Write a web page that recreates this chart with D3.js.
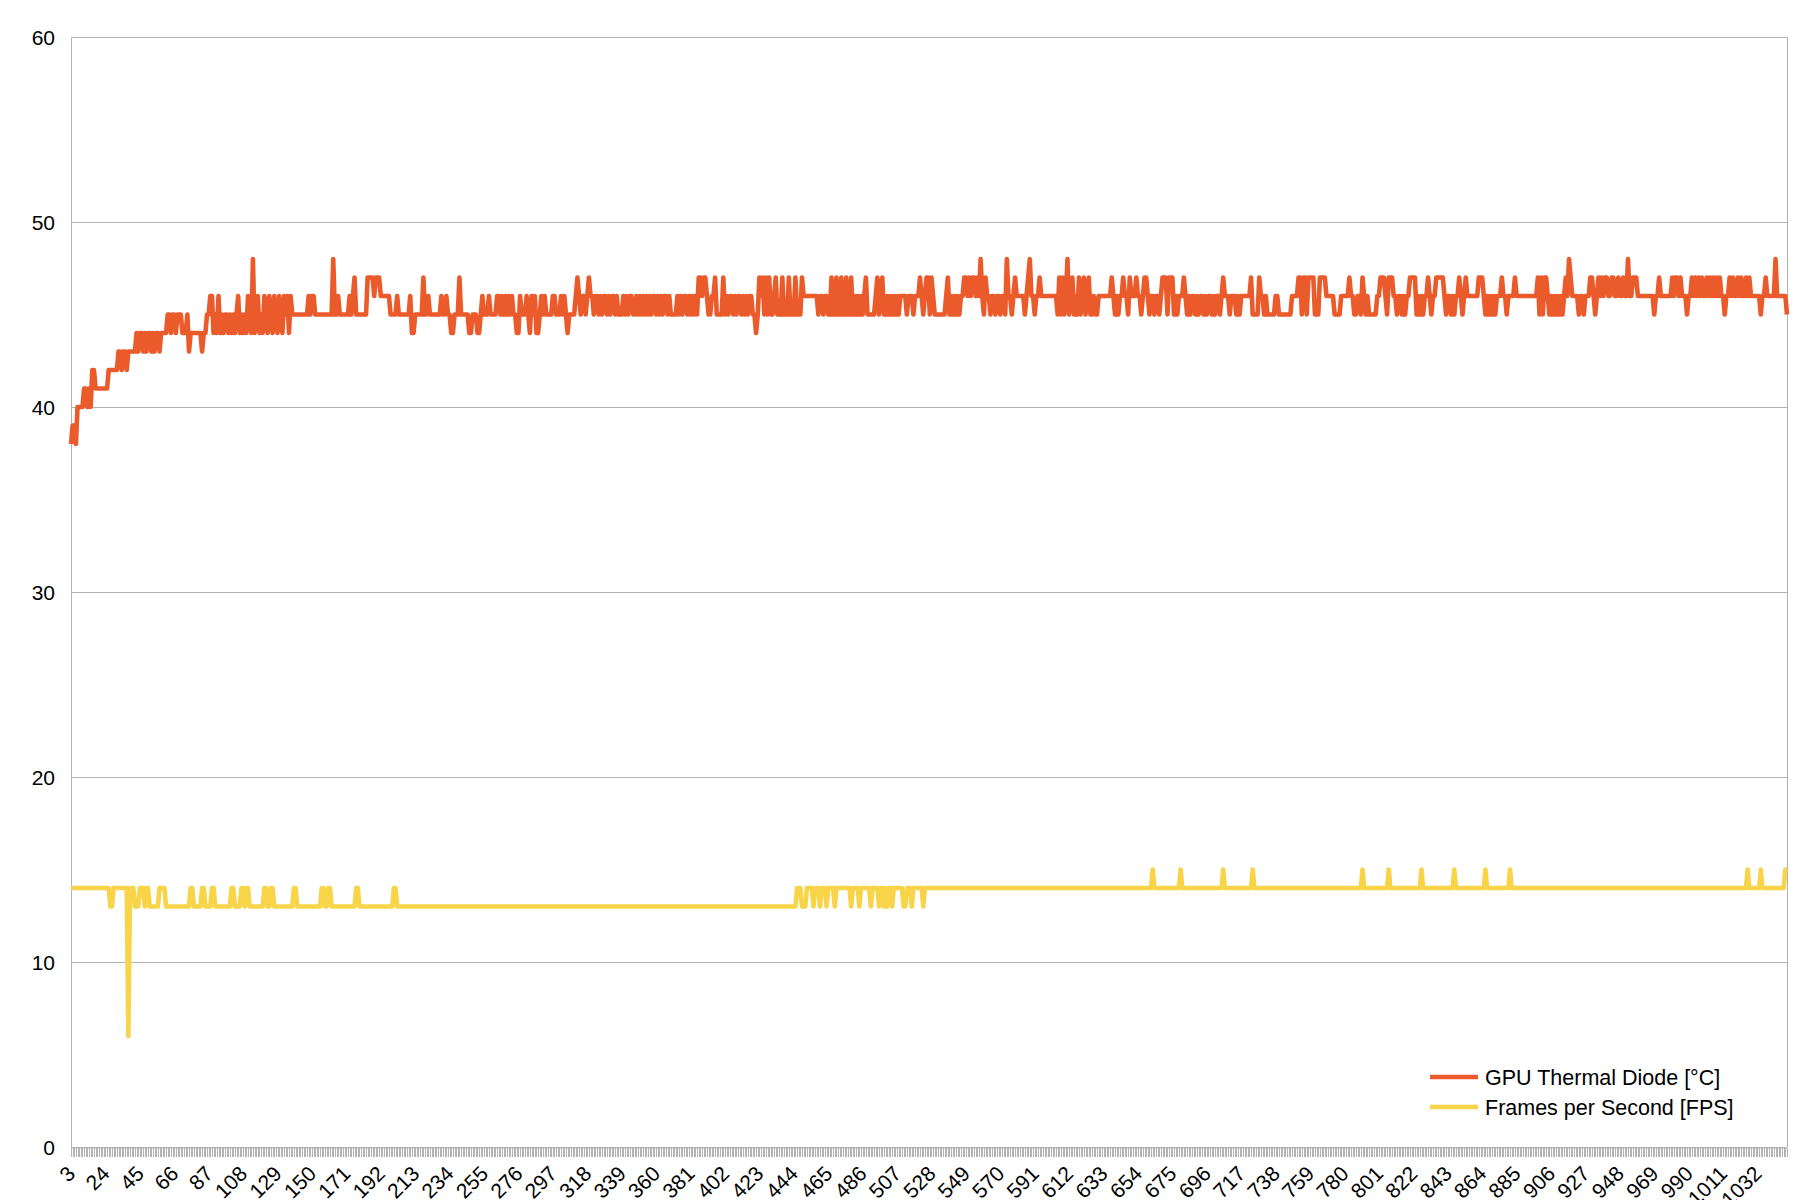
<!DOCTYPE html>
<html><head><meta charset="utf-8">
<script src="https://cdn.jsdelivr.net/npm/d3@7/dist/d3.min.js"></script>
<style>body{margin:0;background:#fff}svg{display:block}</style>
</head><body>
<svg id="chart" width="1799" height="1200"></svg>
<script>
// ---------------- data ----------------
const firstCategory = 3;
const lastCategory = 1050;
const xTickLabels = [3,24,45,66,87,108,129,150,171,192,213,234,255,276,297,318,339,360,381,402,423,444,465,486,507,528,549,570,591,612,633,654,675,696,717,738,759,780,801,822,843,864,885,906,927,948,969,990,1011,1032];
const yTicks = [0,10,20,30,40,50,60];
const seriesNames = ["GPU Thermal Diode [°C]", "Frames per Second [FPS]"];

// GPU Thermal Diode [°C], categories 3..1050, read in sections
const tempSec1 = [38,39,39,38,40,40,40,40,41,41, 40,41,40,42,42,41,41,41,41,41, 41,41,41,42,42,42,42,42,42,43, 43,42,43,43,42,43,43,43,43,43,
  44,43,44,44,43,44,43,44,44,43, 44,43,44,44,43,44,44,44,44,45, 45,44,45,45,44,45,45,45,44,44, 44,45,43,44,44,44,44,44,44,44,
  43,44,44,45,45,46,46,44,45,44, 46,44,45,44,45,45,44,45,44,45, 44,45,46,44,45,44,45,44,46,45, 44,48,44,45,46,44,45,44,46,45,
  44,46,45,44,46,45,44,46];
const tempSec2 = [45,44,46,45,46,44,46,45,45,45, 45,45,45,45,45,45,45,46,45,46, 46,45,45,45,45,45,45,45,45,45, 45,45,48,45,45,46,45,45,45,45,
  45,45,46,45,46,47,45,45,45,45, 45,45,45,47,47,47,47,46,47,47, 47,46,46,46,46,46,46,45,45,45, 45,46,45,45,45,45,45,45,45,46,
  44,44,45,45,45,45,45,47,45,45, 46,45,45,45,45,45,45,45,46,45, 45,46,45,45,44,44,45,45,45,47, 45,45,45,45,45,44,44,45,45,45,
  44,44,45,46,45,45,45,46,45,45, 45,45,46,46];
const tempSec3 = [45,46,45,46,45,46,45,46,45,45, 44,44,46,45,45,45,46,45,44,46, 45,46,44,44,45,46,45,46,45,45, 45,45,46,46,45,45,45,46,45,46,
  45,44,45,45,45,45,46,47,46,45, 46,46,45,46,47,46,46,45,46,46, 45,46,45,46,46,45,46,45,46,46, 45,46,45,45,45,46,45,46,45,46,
  46,45,45,46,45,46,45,46,45,46, 45,46,45,46,46,45,46,45,46,45, 46,46,45,46,45,45,45,45,46,45, 46,45,46,46,45,46,45,46,45,46,
  45,47,47,46,47,47,46];
const tempSec4 = [45,45,46,46,47,45,45,45,45,47, 45,46,45,46,46,45,46,45,46,46, 45,46,45,46,45,46,46,45,45,44, 45,47,46,47,45,47,45,47,45,45,
  46,47,45,45,45,47,45,45,45,47, 45,45,45,47,45,45,45,47,46,46, 46,46,46,46,46,46,46,45,46,46, 45,46,46,45,45,47,45,45,47,45,
  45,47,45,45,47,45,45,47,45,46, 45,46,45,46,45,46,47,45,45,45, 45,45,46,47,45,46,47,45,45,46, 45,46,45,46,45,46,45,46,46,46,
  46,45,46,46,46,45,46,46,46,47, 46,45];
const tempSec5 = [46,47,47,45,47,46,45,45,45,45, 45,45,45,46,47,45,46,45,46,45, 46,45,46,46,47,47,46,47,46,47, 47,46,47,46,48,46,45,47,46,46,
  45,46,46,45,46,46,45,46,46,45, 48,46,46,45,46,47,46,46,46,46, 46,45,46,47,48,46,46,45,46,46, 47,46,46,46,46,46,46,46,46,46,
  46,45,47,45,47,45,46,48,45,46, 47,45,46,45,47,45,46,47,45,46, 47,45,45,46,45,45,46,46,46,46, 46,46,46,46,47,46,45,46,45,46,
  46,47,46,46,45,47,46,46,46,47, 46,46];
const tempSec6 = [45,46,47,47,46,45,46,46,45,46, 46,45,46,47,47,47,45,47,47,47, 45,46,45,46,46,46,47,46,45,46, 45,46,46,45,46,45,46,46,45,46,
  45,46,46,45,46,45,46,46,45,46, 47,46,46,46,45,46,46,46,45,46, 45,46,46,46,46,46,46,47,45,45, 45,45,47,46,46,45,46,45,45,45,
  45,45,46,46,45,45,45,45,45,45, 45,45,46,46,46,46,47,47,45,47, 47,45,47,47,47,47,45,45,45,47, 47,47,47,46,46,46,46,46,45,45,
  45,45,46,46,46,46,46,47,46,46, 45];
const tempSec7 = [45,46,46,45,47,46,45,46,45,45, 45,45,45,46,46,47,47,47,46,45, 47,47,47,46,46,45,46,46,45,46, 45,46,46,47,47,47,47,45,46,45,
  46,45,46,46,47,46,45,46,46,47, 47,47,47,47,46,45,46,46,45,46, 45,46,46,47,46,45,46,47,46,46, 46,46,46,46,46,47,47,47,46,45,
  46,45,46,45,46,45,46,46,46,47, 46,46,45,46,46,46,46,47,46,46, 46,46,46,46,46,46,46,46,46,46, 46,47,45,47,45,47,47,46,45,46,
  45,46,45,46,45,46,45,46,47,46, 48];
const tempSec8 = [47,46,46,46,46,45,46,46,45,46, 46,46,47,47,46,45,46,47,46,47, 46,47,47,46,46,47,47,46,46,47, 46,46,47,46,46,48,46,46,47,47,
  47,46,46,46,46,46,46,46,46,46, 46,45,46,46,47,46,46,46,46,46, 46,46,47,46,47,47,46,47,46,46, 46,45,46,46,47,46,47,46,47,46,
  47,46,46,47,46,47,46,47,46,47, 46,47,46,46,45,46,46,47,46,47, 46,46,47,46,47,46,46,47,46,47, 46,46,46,46,46,46,45,46,46,47,
  46,46,46,46,46,48,46,46,46,46, 46,46,45];

// Frames per Second [FPS], run lengths [value, count] from category 3
const fpsRuns = [[14,24],[13,2],[14,9],[6,1],[14,3],[13,3],[14,3],[13,1],[14,2],[13,6],[14,4],[13,15],
  [14,2],[13,5],[14,2],[13,4],[14,2],[13,10],[14,2],[13,4],[14,2],[13,1],[14,2],[13,9],
  [14,2],[13,2],[14,2],[13,12],[14,2],[13,15],[14,2],[13,2],[14,2],[13,15],[14,2],[13,21],[14,2],
  [13,244],
  [14,3],[13,3],[14,4],[13,1],[14,3],[13,1],[14,3],[13,1],[14,4],[13,1],[14,9],[13,1],[14,4],[13,1],[14,6],[13,1],
  [14,4],[13,1],[14,2],[13,1],[14,1],[13,1],[14,2],[13,1],[14,6],[13,2],[14,3],[13,1],[14,6],[13,1],
  [14,139],[15,1],[14,16],[15,1],[14,25],[15,1],[14,17],[15,1],[14,66],[15,1],[14,15],[15,1],[14,19],[15,1],
  [14,19],[15,1],[14,18],[15,1],[14,14],[15,1],[14,144],[15,1],[14,7],[15,1],[14,14],[15,2]];

// ---------------- build ----------------
const categories = d3.range(firstCategory, lastCategory + 1);
const tempValues = [].concat(tempSec1, tempSec2, tempSec3, tempSec4, tempSec5, tempSec6, tempSec7, tempSec8);
const fpsValues = [];
fpsRuns.forEach(([v, n]) => { for (let i = 0; i < n; i++) fpsValues.push(v); });

const tempData = categories.map((c, i) => ({c, v: tempValues[Math.min(i, tempValues.length - 1)]}));
const fpsData = categories.map((c, i) => ({c, v: fpsValues[Math.min(i, fpsValues.length - 1)]}));

const colors = ["#EA5A2A", "#F8D448"];
const gridColor = "#b3b3b3";
const font = "'Liberation Sans', Arial, sans-serif";

const L = 71, R = 1787, T = 37, B = 1147;
const svg = d3.select("#chart");
const x = d3.scalePoint().domain(categories).range([L, R]);
const y = d3.scaleLinear().domain([0, 60]).range([B, T]);

// gridlines
svg.append("g").selectAll("line").data(yTicks).join("line")
  .attr("x1", L).attr("x2", R).attr("y1", d => y(d) + 0.5).attr("y2", d => y(d) + 0.5)
  .attr("stroke", gridColor).attr("stroke-width", 1);

// plot frame
svg.append("line").attr("x1", L + 0.5).attr("x2", L + 0.5).attr("y1", T).attr("y2", B)
  .attr("stroke", gridColor);
svg.append("line").attr("x1", R + 0.5).attr("x2", R + 0.5).attr("y1", T).attr("y2", B)
  .attr("stroke", gridColor);

// x tick marks (one per category)
const xTickAxis = d3.axisBottom(x).tickValues(categories).tickSize(9).tickFormat("");
const gx = svg.append("g").attr("transform", `translate(0,${B + 0.5})`).call(xTickAxis);
gx.select(".domain").attr("stroke", gridColor);
gx.selectAll(".tick line").attr("stroke", gridColor).attr("stroke-width", 1)
  .attr("shape-rendering", "crispEdges");

// x labels
const labelAxis = d3.axisBottom(x).tickValues(xTickLabels).tickSize(0).tickPadding(0);
const gl = svg.append("g").attr("transform", `translate(0,${B})`).call(labelAxis);
gl.select(".domain").remove();
gl.selectAll(".tick text")
  .attr("font-family", font).attr("font-size", 21).attr("fill", "#000")
  .attr("text-anchor", "end").attr("dy", null).attr("y", 0)
  .attr("transform", "translate(5,28) rotate(-45)");

// y labels
const yAxis = d3.axisLeft(y).tickValues(yTicks).tickSize(0).tickPadding(0);
const gy = svg.append("g").attr("transform", `translate(${L - 16},0)`).call(yAxis);
gy.select(".domain").remove();
gy.selectAll(".tick text").attr("font-family", font).attr("font-size", 21).attr("fill", "#000").attr("dy", "0.35em");

// series
const line = d3.line().x(d => x(d.c)).y(d => y(d.v));
svg.append("path").datum(fpsData).attr("d", line).attr("fill", "none")
  .attr("stroke", colors[1]).attr("stroke-width", 4.6).attr("stroke-linejoin", "round");
svg.append("path").datum(tempData).attr("d", line).attr("fill", "none")
  .attr("stroke", colors[0]).attr("stroke-width", 4.6).attr("stroke-linejoin", "round");

// legend
const lg = svg.append("g").attr("transform", "translate(1430,1077)");
seriesNames.forEach((name, i) => {
  const g = lg.append("g").attr("transform", `translate(0,${i * 30})`);
  g.append("line").attr("x1", 0).attr("x2", 48).attr("y1", 0).attr("y2", 0)
    .attr("stroke", colors[i]).attr("stroke-width", 4.6);
  g.append("text").attr("x", 55).attr("y", 0).attr("dy", "0.35em")
    .attr("font-family", font).attr("font-size", 21.5).attr("fill", "#000").text(name);
});
</script>
</body></html>
